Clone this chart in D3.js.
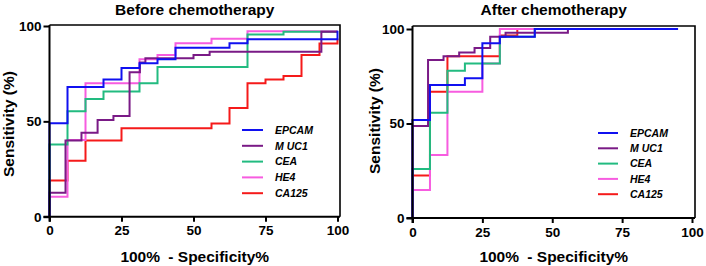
<!DOCTYPE html>
<html>
<head>
<meta charset="utf-8">
<script src="https://cdn.jsdelivr.net/npm/d3@7/dist/d3.min.js"></script>
<style>
  html, body { margin: 0; padding: 0; background: #fff; }
  svg { display: block; font-family: "Liberation Sans", Arial, sans-serif; }
</style>
</head>
<body>
<svg id="chart" width="706" height="266"></svg>
<script>
// ---- data ----
const markers = ['EPCAM', 'MUC1', 'CEA', 'HE4', 'CA125'];
const xTicks = [0, 25, 50, 75, 100];
const yTicks = [0, 50, 100];

// before chemotherapy: 100% - specificity (x) and sensitivity (y) at each ROC step
const beforeEpcamX = [0, 0, 6.25, 18.75, 25, 31.25, 37.5, 43.75, 62.5, 68.75, 100];
const beforeEpcamY = [0, 49, 68, 72, 78, 80.5, 82.5, 88.6, 91, 93, 97.5];
const beforeMuc1X = [0, 0, 5.56, 11.1, 16.7, 22.2, 27.8, 31.4, 33.3, 50, 55.6, 94.4, 100];
const beforeMuc1Y = [0, 12.5, 40, 44, 50.7, 52.8, 75.7, 80.8, 83.1, 84.8, 86.5, 97, 97];
const beforeCeaX = [0, 0, 6.25, 12.5, 18.75, 31.25, 37.5, 68.75, 81.25, 100];
const beforeCeaY = [0, 37.8, 55.3, 61.7, 65.7, 70, 78.5, 95.5, 97, 97];
const beforeHe4X = [0, 0, 6.25, 12.5, 31.25, 37.5, 43.75, 56.25, 68.75, 100];
const beforeHe4Y = [0, 10.5, 40.2, 70, 82.6, 84.8, 91, 93.3, 97.3, 97.3];
const beforeCa125X = [0, 0, 6.25, 12.5, 25, 56.25, 62.5, 68.75, 75, 81.25, 87.5, 93.75, 100];
const beforeCa125Y = [0, 19, 29.3, 40, 46.4, 48.9, 57, 70, 71.9, 73.8, 84.8, 90.8, 93.5];

// after chemotherapy
const afterEpcamX = [0, 0, 6.25, 18.75, 25, 31.25, 43.75, 95];
const afterEpcamY = [0, 51.9, 70.4, 73.9, 92.4, 95.9, 100, 100];
const afterMuc1X = [0, 0, 5.56, 11.1, 16.7, 22.2, 27.8, 33.3, 55.6, 95];
const afterMuc1Y = [0, 48.7, 83.6, 85.6, 87.6, 89.9, 95.9, 98, 100, 100];
const afterCeaX = [0, 0, 6.25, 12.5, 18.75, 31.25, 43.75, 95];
const afterCeaY = [0, 25.9, 55.7, 77.9, 81.8, 95.9, 100, 100];
const afterHe4X = [0, 0, 6.25, 12.5, 25, 31.25, 95];
const afterHe4Y = [0, 14.8, 33.3, 66.8, 81.8, 100, 100];
const afterCa125X = [0, 0, 6.25, 12.5, 31.25, 37.5, 95];
const afterCa125Y = [0, 22.5, 66.8, 85.6, 96.5, 100, 100];

const colors = {
  EPCAM: '#1010f0',
  MUC1: '#7a1a86',
  CEA: '#22bb80',
  HE4: '#f75ce0',
  CA125: '#f51a1a'
};

const zip = (xs, ys) => xs.map((x, i) => ({ x, y: ys[i] }));

const panels = [
  {
    title: 'Before chemotherapy',
    xr: [49.5, 337.5], yr: [216.7, 26], right: 340, top: 25,
    legend: { x1: 242, x2: 263, tx: 275, y: 130, dy: 15.8 },
    ytitleX: 14, ytitleY: 124,
    curves: {
      EPCAM: zip(beforeEpcamX, beforeEpcamY),
      MUC1: zip(beforeMuc1X, beforeMuc1Y),
      CEA: zip(beforeCeaX, beforeCeaY),
      HE4: zip(beforeHe4X, beforeHe4Y),
      CA125: zip(beforeCa125X, beforeCa125Y)
    }
  },
  {
    title: 'After chemotherapy',
    xr: [412.5, 692], yr: [218, 29], right: 695, top: 26,
    legend: { x1: 598, x2: 618, tx: 630, y: 133, dy: 15.3 },
    ytitleX: 380, ytitleY: 121,
    curves: {
      EPCAM: zip(afterEpcamX, afterEpcamY),
      MUC1: zip(afterMuc1X, afterMuc1Y),
      CEA: zip(afterCeaX, afterCeaY),
      HE4: zip(afterHe4X, afterHe4Y),
      CA125: zip(afterCa125X, afterCa125Y)
    }
  }
];

const svg = d3.select('#chart');

panels.forEach(p => {
  const x = d3.scaleLinear().domain([0, 100]).range(p.xr);
  const y = d3.scaleLinear().domain([0, 100]).range(p.yr);
  const x0 = x(0), y0 = y(0);
  const g = svg.append('g');

  // curves (CA125 first so EPCAM ends on top)
  const line = d3.line().x(d => x(d.x)).y(d => y(d.y)).curve(d3.curveStepAfter);
  markers.slice().reverse().forEach(m => {
    g.append('path')
      .attr('d', line(p.curves[m]))
      .attr('fill', 'none')
      .attr('stroke', colors[m])
      .attr('stroke-width', 2);
  });

  // frame top/right
  g.append('path')
    .attr('d', `M${x0},${p.top}H${p.right}V${y0}`)
    .attr('fill', 'none')
    .attr('stroke', '#000')
    .attr('stroke-width', 1.6);

  // axes
  const xAxis = g.append('g')
    .attr('transform', `translate(0,${y0})`)
    .call(d3.axisBottom(x).tickValues(xTicks).tickSize(5).tickSizeOuter(0).tickPadding(4));
  xAxis.select('.domain').remove();
  g.append('line')
    .attr('x1', x0 - 6).attr('x2', p.right).attr('y1', y0).attr('y2', y0)
    .attr('stroke', '#000').attr('stroke-width', 2);

  const yAxis = g.append('g')
    .attr('transform', `translate(${x0},0)`)
    .call(d3.axisLeft(y).tickValues(yTicks).tickSize(6).tickSizeOuter(0).tickPadding(2));
  yAxis.select('.domain').remove();
  g.append('line')
    .attr('x1', x0).attr('x2', x0).attr('y1', p.top).attr('y2', y0 + 5)
    .attr('stroke', '#000').attr('stroke-width', 2);

  [xAxis, yAxis].forEach(a => {
    a.selectAll('.tick line').attr('stroke', '#000').attr('stroke-width', 2);
    a.selectAll('.tick text')
      .attr('fill', '#000')
      .attr('font-size', '13.5px')
      .attr('font-weight', 'bold')
      .attr('font-family', '"Liberation Sans", Arial, sans-serif');
  });

  // titles
  const cx = (x0 + p.right) / 2;
  g.append('text')
    .attr('x', cx).attr('y', 14.5)
    .attr('text-anchor', 'middle')
    .attr('font-size', '15.5px').attr('font-weight', 'bold')
    .text(p.title);
  const xt = g.append('text')
    .attr('x', cx).attr('y', 261.5)
    .attr('text-anchor', 'middle')
    .attr('font-size', '15.5px').attr('font-weight', 'bold');
  xt.append('tspan').text('100%');
  xt.append('tspan').attr('dx', 4).text(' - Specificity%');
  g.append('text')
    .attr('transform', `translate(${p.ytitleX},${p.ytitleY}) rotate(-90)`)
    .attr('text-anchor', 'middle')
    .attr('font-size', '15.5px').attr('font-weight', 'bold')
    .text('Sensitivity (%)');

  // legend
  markers.forEach((m, i) => {
    const ly = p.legend.y + i * p.legend.dy;
    g.append('line')
      .attr('x1', p.legend.x1).attr('x2', p.legend.x2)
      .attr('y1', ly).attr('y2', ly)
      .attr('stroke', colors[m]).attr('stroke-width', 2);
    const t = g.append('text')
      .attr('x', p.legend.tx).attr('y', ly + 3.8)
      .attr('font-size', '10.5px').attr('font-weight', 'bold').attr('font-style', 'italic');
    if (m === 'MUC1') {
      t.append('tspan').text('M');
      t.append('tspan').attr('dx', 3).text('UC1');
    } else {
      t.text(m);
    }
  });
});
</script>
</body>
</html>
